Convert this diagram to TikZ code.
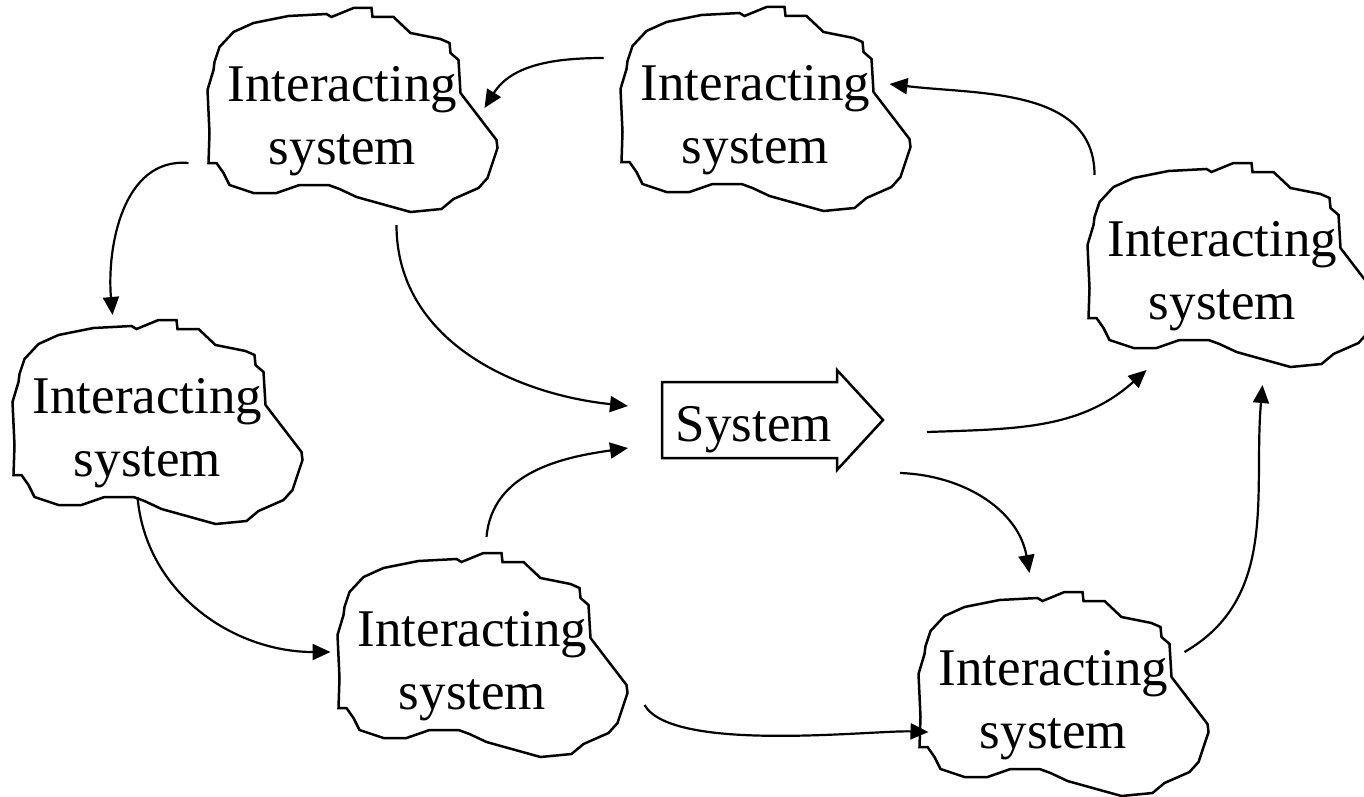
\documentclass[tikz,border=0pt]{standalone}
\usepackage{fontspec}
\setmainfont{Liberation Serif}
\usetikzlibrary{arrows.meta}

% ragged outline drawn round a system node
\newcommand{\cloud}[1]{%
  \draw[cloudline,shift={(#1.center)}] (-109,89) -- (-89,98) -- (-54,105) -- (-16,107)
    -- (-11,104) -- (11,113) -- (29,113) -- (30,104) -- (51,104) -- (68,88) -- (98,82)
    -- (107,78) -- (108,68) -- (116,61) -- (118,28) -- (154,-19) -- (155,-27)
    -- (145,-57) -- (136,-67) -- (111,-78) -- (99,-88) -- (68,-91) -- (14,-76)
    -- (-3,-68) -- (-14,-64) -- (-43,-64) -- (-66,-72) -- (-89,-72) -- (-113,-64)
    -- (-119,-52) -- (-126,-42) -- (-134,-42) -- (-133,-12) -- (-135,31)
    -- (-129,51) -- (-128,59) -- (-123,74) -- cycle;}

\begin{document}
\begin{tikzpicture}[x=0.5pt,y=0.5pt,
    cloudline/.style={line width=1.25pt},
    isys/.style={align=center,inner sep=0pt,font=\fontsize{26.5}{31.5}\selectfont},
    flow/.style={line width=1.1pt,-{Triangle[length=9pt,width=8pt]}}]
  \useasboundingbox (0,0) rectangle (1364,-797);

  % interacting systems
  \node [isys] (s1) at (342.5,-121) {Interacting\\system};
  \node [isys] (s2) at (755.5,-120) {Interacting\\system};
  \node [isys] (s3) at (1222.5,-276) {Interacting\\system};
  \node [isys] (s4) at (147.5,-433) {Interacting\\system};
  \node [isys] (s5) at (472.5,-666) {Interacting\\system};
  \node [isys] (s6) at (1053.5,-705) {Interacting\\system};
  \cloud{s1} \cloud{s2} \cloud{s3} \cloud{s4} \cloud{s5} \cloud{s6}

  % the system itself
  \node [isys] (sys) at (754,-430) {System};
  \draw[cloudline,shift={(sys.center)}] (-92,48) -- (83,48) -- (83,60) -- (129,10)
    -- (83,-40) -- (83,-28) -- (-92,-28) -- cycle;

  % interactions
  \draw[flow] ([shift={(-152,62)}]s2.center) to[out=180,in=58] ([shift={(142,13)}]s1.center);
  \draw[flow] ([shift={(-128,101)}]s3.center) to[out=90,in=-7] ([shift={(134,36)}]s2.center);
  \draw[flow] ([shift={(-154,-42)}]s1.center) to[out=175,in=95] ([shift={(-35,118)}]s4.center);
  \draw[flow] ([shift={(54,-104)}]s1.center) to[out=-90,in=174] ([shift={(-126,24)}]sys.center);
  \draw[flow] ([shift={(-10,-64)}]s4.center) to[out=-85,in=180] ([shift={(-142,14)}]s5.center);
  \draw[flow] ([shift={(14,129)}]s5.center) to[out=85,in=188] ([shift={(-126,-18)}]sys.center);
  \draw[flow] ([shift={(173,-2)}]sys.center) to[out=2,in=222] ([shift={(-76,-94)}]s3.center);
  \draw[flow] ([shift={(146,-43)}]sys.center) to[out=-2,in=100] ([shift={(-24,132)}]s6.center);
  \draw[flow] ([shift={(172,-39)}]s5.center) to[out=-60,in=178,looseness=0.5] ([shift={(-125,-27)}]s6.center);
  \draw[flow] ([shift={(131,53)}]s6.center) to[out=30,in=-95] ([shift={(40,-109)}]s3.center);
\end{tikzpicture}
\end{document}
